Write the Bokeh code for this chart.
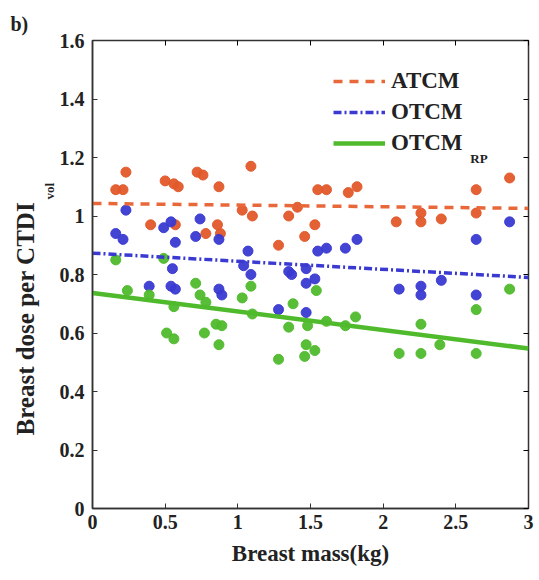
from bokeh.plotting import figure
from bokeh.models import (Range1d, FixedTicker, LinearAxis, Label, Legend, LegendItem, Title)
from bokeh.embed import file_html
from bokeh.resources import INLINE

# ---------------- data ----------------
atcm_mass = [0.16, 0.21, 0.23, 0.40, 0.50, 0.56, 0.57, 0.59, 0.72, 0.76, 0.78, 0.86, 0.87, 0.88,
             1.03, 1.09, 1.10, 1.28, 1.35, 1.41, 1.46, 1.53, 1.55, 1.61, 1.76, 1.82,
             2.09, 2.26, 2.26, 2.40, 2.64, 2.64, 2.87]
atcm_dose = [1.09, 1.09, 1.15, 0.97, 1.12, 1.11, 0.97, 1.10, 1.15, 1.14, 0.94, 0.97, 1.10, 0.94,
             1.02, 1.17, 1.00, 0.90, 1.00, 1.03, 0.93, 0.97, 1.09, 1.09, 1.08, 1.10,
             0.98, 1.01, 0.98, 0.99, 1.09, 1.01, 1.13]

otcm_mass = [0.16, 0.21, 0.23, 0.39, 0.49, 0.54, 0.54, 0.55, 0.57, 0.57, 0.71, 0.74, 0.87, 0.87, 0.89,
             1.04, 1.07, 1.09, 1.28, 1.35, 1.37, 1.47, 1.47, 1.47, 1.53, 1.55, 1.61, 1.74, 1.82,
             2.11, 2.26, 2.26, 2.40, 2.64, 2.64, 2.87]
otcm_dose = [0.94, 0.92, 1.02, 0.76, 0.96, 0.98, 0.76, 0.82, 0.91, 0.75, 0.93, 0.99, 0.92, 0.75, 0.73,
             0.83, 0.88, 0.80, 0.68, 0.81, 0.80, 0.82, 0.77, 0.67, 0.785, 0.88, 0.89, 0.89, 0.92,
             0.75, 0.76, 0.73, 0.78, 0.92, 0.73, 0.98]

rp_mass = [0.16, 0.24, 0.39, 0.49, 0.51, 0.56, 0.56, 0.71, 0.74, 0.77, 0.78, 0.85, 0.87, 0.89,
           1.03, 1.09, 1.10, 1.28, 1.35, 1.38, 1.46, 1.47, 1.48, 1.53, 1.54, 1.61, 1.74, 1.81,
           2.11, 2.26, 2.26, 2.39, 2.64, 2.64, 2.87]
rp_dose = [0.85, 0.745, 0.73, 0.855, 0.60, 0.69, 0.58, 0.77, 0.73, 0.60, 0.705, 0.63, 0.56, 0.625,
           0.72, 0.76, 0.665, 0.51, 0.62, 0.70, 0.52, 0.56, 0.625, 0.54, 0.745, 0.64, 0.625, 0.655,
           0.53, 0.63, 0.53, 0.56, 0.68, 0.53, 0.75]

fit_mass = [0.0, 3.0]
atcm_fit = [1.043, 1.026]
otcm_fit = [0.873, 0.790]
rp_fit = [0.737, 0.547]

x_ticks = [0, 0.5, 1, 1.5, 2, 2.5, 3]
x_tick_labels = ["0", "0.5", "1", "1.5", "2", "2.5", "3"]
y_ticks = [0, 0.2, 0.4, 0.6, 0.8, 1.0, 1.2, 1.4, 1.6]
y_tick_labels = ["0", "0.2", "0.4", "0.6", "0.8", "1", "1.2", "1.4", "1.6"]

series_names = ["ATCM", "OTCM", "OTCM"]

# ---------------- styling ----------------
FONT = "Liberation Serif"
C_ATCM = "#e2582a"
C_OTCM = "#3a3ad2"
C_RP = "#4fba2c"
TXT = "#222222"

p = figure(frame_width=436, frame_height=468, output_backend="svg", toolbar_location=None,
           x_range=Range1d(0, 3), y_range=Range1d(0, 1.6),
           min_border_left=92, min_border_right=11, min_border_top=40, min_border_bottom=72,
           background_fill_color="white", border_fill_color="white")
p.xgrid.visible = False
p.ygrid.visible = False
p.outline_line_color = "#333333"
p.outline_line_width = 1.5

for ax in (p.xaxis[0], p.yaxis[0]):
    ax.major_tick_in = 5
    ax.major_tick_out = 0
    ax.minor_tick_line_color = None
    ax.axis_line_color = "#333333"
    ax.axis_line_width = 1.5
    ax.major_tick_line_color = "#333333"
    ax.major_label_text_font = FONT
    ax.major_label_text_font_size = "20px"
    ax.major_label_text_font_style = "bold"
    ax.major_label_text_color = TXT

p.xaxis.ticker = FixedTicker(ticks=x_ticks)
p.xaxis.major_label_overrides = {t: l for t, l in zip(x_ticks, x_tick_labels)}
p.yaxis.ticker = FixedTicker(ticks=y_ticks)
p.yaxis.major_label_overrides = {t: l for t, l in zip(y_ticks, y_tick_labels)}
p.xaxis.major_label_standoff = 6
p.yaxis.major_label_standoff = 8

p.xaxis.axis_label = "Breast mass(kg)"
p.xaxis.axis_label_text_font = FONT
p.xaxis.axis_label_text_font_size = "23px"
p.xaxis.axis_label_text_font_style = "bold"
p.xaxis.axis_label_text_color = TXT
p.xaxis.axis_label_standoff = 9

# top/right boxed ticks (labels not drawn)
top = LinearAxis(ticker=FixedTicker(ticks=x_ticks), major_tick_in=5, major_tick_out=0,
                 minor_tick_line_color=None, major_label_text_color=None,
                 major_label_text_font_size="2px",
                 axis_line_color=None, major_label_standoff=0)
right = LinearAxis(ticker=FixedTicker(ticks=y_ticks), major_tick_in=5, major_tick_out=0,
                   minor_tick_line_color=None, major_label_text_color=None,
                   major_label_text_font_size="2px",
                   axis_line_color=None, major_label_standoff=0)
p.add_layout(top, "above")
p.add_layout(right, "right")

# panel label "b)"
p.add_layout(Title(text="b)", align="left", offset=-82, standoff=11,
                   text_font=FONT, text_font_size="20px", text_font_style="bold",
                   text_color=TXT), "above")

# y label with subscript, built from two side titles
p.add_layout(Title(text="vol", align="left", offset=309, standoff=0,
                   text_font=FONT, text_font_size="13px", text_font_style="bold",
                   text_color=TXT), "left")
p.add_layout(Title(text="Breast dose per CTDI", align="left", offset=73, standoff=2,
                   text_font=FONT, text_font_size="25px", text_font_style="bold",
                   text_color=TXT), "left")

# scatter points
p.scatter(atcm_mass, atcm_dose, size=10, color=C_ATCM, alpha=0.95)
p.scatter(otcm_mass, otcm_dose, size=10, color=C_OTCM, alpha=0.95)
p.scatter(rp_mass, rp_dose, size=10, color=C_RP, alpha=0.95)

# fit lines
l1 = p.line(fit_mass, atcm_fit, line_color="#e8683a", line_width=3.5, line_dash="9 7")
l2 = p.line(fit_mass, otcm_fit, line_color=C_OTCM, line_width=3.5, line_dash="8 3 2 3")
l3 = p.line(fit_mass, rp_fit, line_color=C_RP, line_width=4.5)

legend = Legend(items=[LegendItem(label=series_names[0], renderers=[l1]),
                       LegendItem(label=series_names[1], renderers=[l2]),
                       LegendItem(label=series_names[2], renderers=[l3])],
                location=(241, 352), glyph_width=52, glyph_height=20, label_height=20,
                spacing=5, padding=0, margin=0, label_standoff=6,
                label_text_font=FONT, label_text_font_size="23px", label_text_font_style="bold",
                label_text_color=TXT, border_line_color=None, background_fill_alpha=0)
p.add_layout(legend)

p.add_layout(Label(x=2.60, y=1.195, text="RP", text_font=FONT, text_font_size="13px",
                   text_font_style="bold", text_color=TXT,
                   text_align="left", text_baseline="middle"))

open("out.html", "w").write(file_html(p, INLINE))
